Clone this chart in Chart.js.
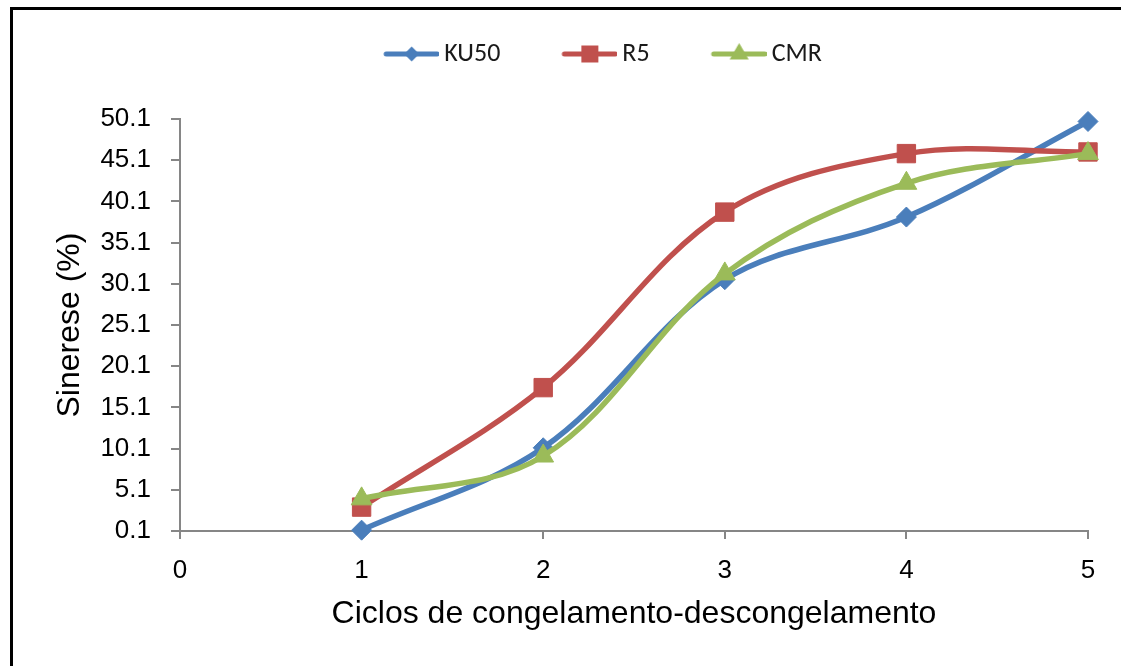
<!DOCTYPE html>
<html>
<head>
<meta charset="utf-8">
<title>Sinerese</title>
<script src="https://cdn.jsdelivr.net/npm/chart.js@4.4.1/dist/chart.umd.min.js"></script>
<style>
  html, body { margin: 0; padding: 0; background: #fff; }
  body { width: 1121px; height: 666px; overflow: hidden; position: relative; }
  #frame { position: absolute; left: 10px; top: 7px; width: 1200px; height: 700px;
           border-left: 3px solid #000; border-top: 3px solid #000; }
  #wrap { position: absolute; left: 13px; top: 10px; width: 1108px; height: 656px; }
</style>
</head>
<body>
<div id="frame"></div>
<div id="wrap"><canvas id="sinereseChart"></canvas></div>
<script>
// values
const cycles = [1, 2, 3, 4, 5];
const ku50 = [0.2, 10.2, 30.6, 38.2, 49.8];
const r5 = [3.0, 17.5, 38.8, 45.9, 46.1];
const cmr = [4.0, 9.2, 31.3, 42.3, 45.9];
const xTicks = [0, 1, 2, 3, 4, 5];
const yTicks = [0.1, 5.1, 10.1, 15.1, 20.1, 25.1, 30.1, 35.1, 40.1, 45.1, 50.1];

const axisFont = "'Liberation Sans', Arial, sans-serif";
const axisGray = '#868686';

function toPoints(values) {
  return cycles.map((c, i) => ({ x: c, y: values[i] }));
}

// little line + marker picture for the legend (Excel style)
function legendIcon(ds) {
  const c = document.createElement('canvas');
  c.width = 96;
  c.height = 30;
  const ctx = c.getContext('2d');
  const cx = 68.5, cy = 15, r = ds.legendRadius;
  ctx.strokeStyle = ds.borderColor;
  ctx.fillStyle = ds.borderColor;
  ctx.lineWidth = 5;
  ctx.lineCap = 'round';
  ctx.beginPath();
  ctx.moveTo(43, cy);
  ctx.lineTo(94, cy);
  ctx.stroke();
  ctx.beginPath();
  if (ds.pointStyle === 'rectRot') {
    ctx.moveTo(cx, cy - r); ctx.lineTo(cx + r, cy); ctx.lineTo(cx, cy + r); ctx.lineTo(cx - r, cy);
  } else if (ds.pointStyle === 'rect') {
    ctx.rect(cx - r, cy - r, 2 * r, 2 * r);
  } else {
    ctx.moveTo(cx, cy - r);
    ctx.lineTo(cx + r * 0.866, cy + r * 0.5);
    ctx.lineTo(cx - r * 0.866, cy + r * 0.5);
  }
  ctx.closePath();
  ctx.fill();
  return c;
}

const legendOffset = {
  id: 'legendOffset',
  afterLayout(chart) {
    const lg = chart.legend;
    lg.left += 17; lg.right += 17;
    lg.top -= 42; lg.bottom -= 42;
  }
};

new Chart(document.getElementById('sinereseChart'), {
  type: 'line',
  data: {
    datasets: [
      {
        label: 'KU50',
        data: toPoints(ku50),
        borderColor: '#4A7EBB',
        backgroundColor: '#4A7EBB',
        pointStyle: 'rectRot',
        pointRadius: 10,
        legendRadius: 7.5,
        order: 2
      },
      {
        label: 'R5',
        data: toPoints(r5),
        borderColor: '#C0504D',
        backgroundColor: '#C0504D',
        pointStyle: 'rect',
        pointRadius: 13,
        legendRadius: 8.5,
        order: 1
      },
      {
        label: 'CMR',
        data: toPoints(cmr),
        borderColor: '#9BBB59',
        backgroundColor: '#9BBB59',
        pointStyle: 'triangle',
        pointRadius: 12,
        legendRadius: 11,
        order: 0
      }
    ]
  },
  options: {
    responsive: true,
    maintainAspectRatio: false,
    animation: false,
    layout: { padding: { left: 38, right: 33, top: 44, bottom: 33 } },
    elements: {
      line: { borderWidth: 5.5, tension: 0.35, fill: false },
      point: { borderWidth: 1 }
    },
    datasets: { line: { clip: false } },
    plugins: {
      tooltip: { enabled: false },
      legend: {
        position: 'top',
        labels: {
          usePointStyle: true,
          pointStyleWidth: 80,
          padding: 29,
          color: '#1a1a1a',
          font: { family: "Carlito, Lato, sans-serif", size: 26 },
          sort: (a, b) => a.datasetIndex - b.datasetIndex,
          generateLabels(chart) {
            const items = Chart.defaults.plugins.legend.labels.generateLabels(chart);
            items.forEach(it => { it.pointStyle = legendIcon(chart.data.datasets[it.datasetIndex]); });
            return items;
          }
        }
      }
    },
    scales: {
      x: {
        type: 'linear',
        min: 0,
        max: 5,
        afterBuildTicks: s => { s.ticks = xTicks.map(v => ({ value: v })); },
        afterFit: s => { s.height = 102; },
        ticks: { padding: 16, color: '#000', font: { family: axisFont, size: 26 } },
        grid: { drawOnChartArea: false, tickLength: 8, color: axisGray, lineWidth: 2 },
        border: { color: axisGray, width: 2 },
        title: {
          display: true,
          text: 'Ciclos de congelamento-descongelamento',
          color: '#000',
          font: { family: axisFont, size: 32 },
          padding: { top: 10, bottom: 0 }
        }
      },
      y: {
        min: 0.1,
        max: 50.1,
        afterBuildTicks: s => { s.ticks = yTicks.map(v => ({ value: v })); },
        afterFit: s => { s.width = 129; },
        ticks: { padding: 20, color: '#000', font: { family: axisFont, size: 26 }, callback: v => v.toFixed(1) },
        grid: { drawOnChartArea: false, tickLength: 9, color: axisGray, lineWidth: 2 },
        border: { color: axisGray, width: 2 },
        title: {
          display: true,
          text: 'Sinerese (%)',
          color: '#000',
          font: { family: axisFont, size: 32 },
          padding: { top: 0, bottom: 9 }
        }
      }
    }
  },
  plugins: [legendOffset]
});
</script>
</body>
</html>
